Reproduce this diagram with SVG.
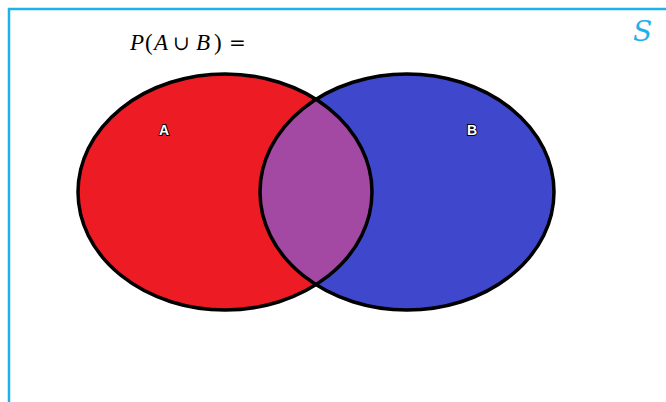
<svg xmlns="http://www.w3.org/2000/svg" width="666" height="402" viewBox="0 0 666 402">
<style>
.ring{fill:none;stroke:#000;stroke-width:3.5}
.lbl{font-family:"Liberation Sans",Arial,sans-serif;font-size:14px;fill:#fff;stroke:#000;stroke-width:1.8;paint-order:stroke;font-weight:bold}
.math{font-family:"Liberation Serif","DejaVu Serif",serif;font-style:italic;font-size:23px;fill:#000}
.up{font-style:normal}
.op{font-style:normal;font-family:"DejaVu Serif",serif;font-size:20px}
</style>
<defs>
<clipPath id="clipA"><ellipse cx="225" cy="192" rx="147" ry="118"/></clipPath>
</defs>
<rect x="0" y="0" width="666" height="402" fill="#fff"/>
<path d="M9 402 V9 H666" fill="none" stroke="#1fb1ea" stroke-width="2.5"/>
<g id="frame-label"><text x="633" y="41" font-family="'DejaVu Serif','Liberation Serif',serif" font-style="italic" font-size="28" fill="#1fb1ea">S</text></g>
<g id="title"><text y="50" class="math"><tspan x="130">P</tspan><tspan x="145" class="up">(</tspan><tspan x="154">A</tspan><tspan x="173" class="op">∪</tspan><tspan x="196">B</tspan><tspan x="214" class="up">)</tspan><tspan x="229" class="op" font-size="27">=</tspan></text></g>
<g id="A">
<ellipse cx="225" cy="192" rx="147" ry="118" fill="#ed1c24"/>
</g>
<g id="B">
<ellipse cx="407" cy="192" rx="147" ry="118" fill="#3f48cc"/>
</g>
<g id="AB">
<ellipse cx="407" cy="192" rx="147" ry="118" fill="#a349a4" clip-path="url(#clipA)"/>
</g>
<g id="outlines">
<ellipse class="ring" cx="225" cy="192" rx="147" ry="118"/>
<ellipse class="ring" cx="407" cy="192" rx="147" ry="118"/>
</g>
<text class="lbl" x="159" y="135">A</text>
<text class="lbl" x="467" y="135">B</text>
</svg>
